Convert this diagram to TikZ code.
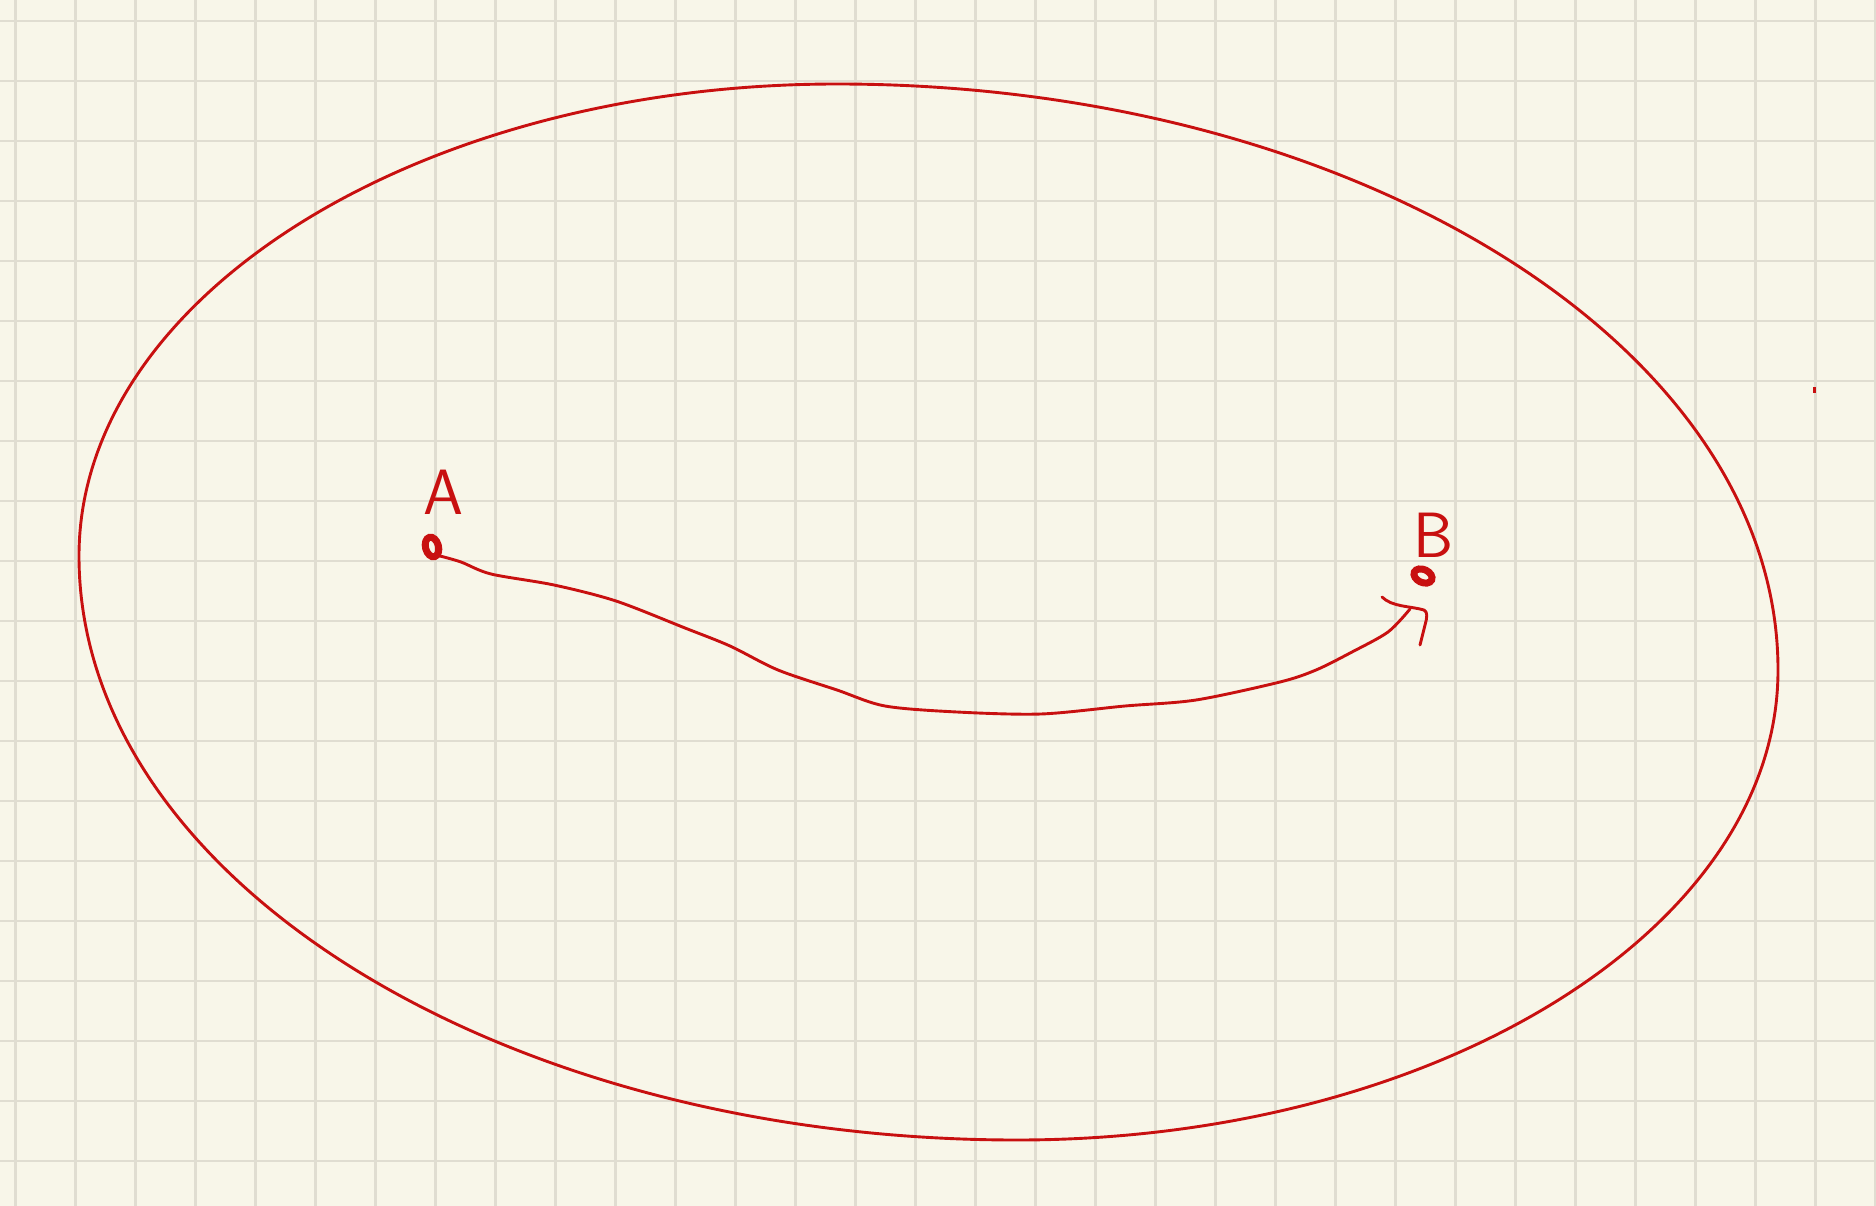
\documentclass[tikz,border=0pt]{standalone}
\usetikzlibrary{shapes.geometric}
\definecolor{paper}{RGB}{248,246,233}
\definecolor{gridc}{RGB}{224,221,209}
\definecolor{ink}{RGB}{200,16,16}
\begin{document}
\begin{tikzpicture}[x=1pt,y=-1pt,
  inkline/.style={draw=ink,line width=2.9pt,line cap=round,line join=round},
  gridline/.style={draw=gridc,line width=2.2pt},
  hand/.style={text=ink,font=\sffamily\fontsize{64}{64}\selectfont,inner sep=0pt},
  spot/.style={draw=ink,line width=7pt,inner sep=0pt,ellipse}]
\fill[paper] (0,0) rectangle (1876,1206);
\useasboundingbox (0,0) rectangle (1876,1206);
\foreach \i in {0,...,31} \draw[gridline] ({15.5+60*\i},0) -- ({15.5+60*\i},1206);
\foreach \j in {0,...,19} \draw[gridline] (0,{21+60*\j}) -- (1876,{21+60*\j});
% outer closed curve
\coordinate (top) at (837,84);
\coordinate (right) at (1778,670);
\coordinate (bottom) at (1017,1140);
\coordinate (left) at (79,556);
\draw[inkline] (top) .. controls (1356,84) and (1778,347) .. (right)
  .. controls (1778,929) and (1437,1140) .. (bottom)
  .. controls (499,1140) and (79,878) .. (left)
  .. controls (79,296) and (419,84) .. (top) -- cycle;
% points and labels
\node[spot,minimum width=13pt,minimum height=20pt,rotate=15] (dotA) at (432,547) {};
\node[spot,minimum width=19pt,minimum height=13pt,rotate=-25] (dotB) at (1423,576) {};
\node[hand] (labA) at (443,492) {A};
\node[hand] (labB) at (1434,535) {B};
\coordinate (pstart) at (440,556);
\coordinate (pend) at (1410,609);
\coordinate (hookS) at (1382,597);
\coordinate (hookE) at (1420,645);
% wandering path from A to B
\draw[inkline] plot[smooth, tension=0.5] coordinates {
 (pstart) (461,562) (491,574) (554,585) (616,601) (685,628) (730,646) (778,670)
 (837,690) (885,706) (957,712) (1041,714) (1125,706) (1196,700) (1280,682)
 (1316,670) (1352,652) (1388,632) (pend)};
% hand-drawn arrow head
\draw[inkline] (hookS) .. controls (1392,607) and (1410,606) .. (1424,610)
  .. controls (1428,612) and (1427,618) .. (1425,625) -- (hookE);
% stray mark
\fill[ink] (1812.5,387) rectangle (1815.5,393);
\end{tikzpicture}
\end{document}
